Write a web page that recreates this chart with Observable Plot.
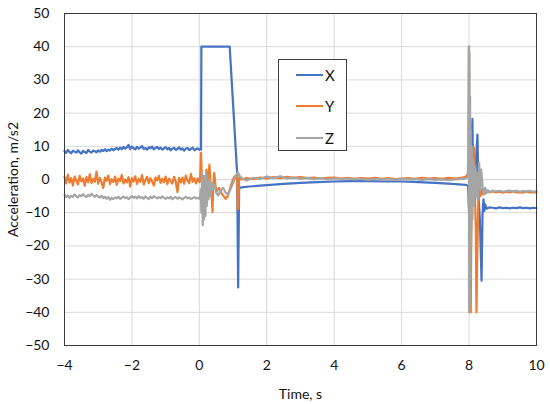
<!DOCTYPE html>
<html>
<head>
<meta charset="utf-8">
<script src="https://cdn.jsdelivr.net/npm/d3@7"></script>
<script src="https://cdn.jsdelivr.net/npm/@observablehq/plot@0.6"></script>
<style>
  html, body { margin: 0; padding: 0; background: #fff; }
  #wrap { position: relative; width: 550px; height: 404px; font-family: Lato, "Open Sans", sans-serif; }
  #legend { position: absolute; left: 278px; top: 59px; width: 69px; height: 92px; border: 1px solid #404040; background: #fff; box-sizing: border-box; }
  .row { position: absolute; left: 17px; height: 20px; display: flex; align-items: center; font-size: 15px; color: #111; }
  .sw { width: 27px; height: 0; border-top: 2px solid; margin-right: 2px; }
</style>
</head>
<body>
<div id="wrap"><div id="chart"></div><div id="legend"></div></div>
<script>
const seriesNames = ["X", "Y", "Z"];
const seriesColors = ["#4472C4", "#ED7D31", "#A5A5A5"];
const xTicks = [-4, -2, 0, 2, 4, 6, 8, 10];
const yTicks = [-50, -40, -30, -20, -10, 0, 10, 20, 30, 40, 50];

// baseline sample times (before the event)
const tPre = [-4.00,-3.95,-3.90,-3.85,-3.80,-3.75,-3.70,-3.65,-3.60,-3.55,-3.50,-3.45,-3.40,-3.35,-3.30,-3.25,-3.20,-3.15,-3.10,-3.05,-3.00,
  -2.95,-2.90,-2.85,-2.80,-2.75,-2.70,-2.65,-2.60,-2.55,-2.50,-2.45,-2.40,-2.35,-2.30,-2.25,-2.20,-2.15,-2.10,-2.05,-2.00,
  -1.95,-1.90,-1.85,-1.80,-1.75,-1.70,-1.65,-1.60,-1.55,-1.50,-1.45,-1.40,-1.35,-1.30,-1.25,-1.20,-1.15,-1.10,-1.05,-1.00,
  -0.95,-0.90,-0.85,-0.80,-0.75,-0.70,-0.65,-0.60,-0.55,-0.50,-0.45,-0.40,-0.35,-0.30,-0.25,-0.20,-0.15,-0.10,-0.05,0.00];

const xPre = [8.6,8.0,8.9,8.3,7.9,8.7,8.4,8.1,8.8,8.2,7.8,8.6,8.3,8.0,8.9,8.4,8.1,8.7,8.5,8.2,8.8,
  8.4,8.9,8.6,9.1,8.5,9.0,8.7,9.3,8.8,9.2,9.5,9.0,9.6,9.1,9.8,9.3,9.7,10.4,9.2,9.9,
  9.4,9.1,9.8,9.3,9.6,10.1,9.2,9.5,9.0,9.7,9.4,9.9,9.1,9.5,9.8,9.2,9.6,9.0,9.4,9.7,
  9.1,9.5,8.8,9.3,9.6,8.9,9.2,9.7,9.0,9.4,8.7,9.3,9.5,8.9,9.2,9.6,8.8,9.1,9.4,9.0];

const yPre = [0.8,-1.2,1.5,-0.9,0.4,-1.8,0.9,-0.3,-1.5,1.1,-0.6,0.3,-1.9,0.7,-0.8,1.6,-1.1,0.2,-0.7,2.4,-1.3,
  0.5,-0.9,-2.6,0.6,-0.4,1.2,-1.4,0.1,-0.8,0.9,-1.6,0.3,-0.5,1.4,-1.2,0.0,-0.9,0.7,-2.1,0.4,
  -0.6,1.0,-1.3,0.2,-0.7,1.3,-1.5,-0.2,0.8,-1.1,0.4,-0.6,-1.8,0.6,-0.3,1.1,-1.0,0.2,-0.8,0.9,
  -1.4,0.3,-0.5,-1.2,0.8,-0.6,-3.8,0.5,-0.9,0.6,-1.3,1.2,-0.4,-1.1,1.7,-0.7,0.4,-1.2,0.3,-0.8];

const zPre = [-4.6,-5.3,-4.8,-5.5,-4.9,-5.2,-4.5,-5.0,-5.4,-4.7,-5.1,-4.4,-4.9,-5.3,-4.6,-5.0,-4.3,-4.8,-5.2,-4.7,-5.1,
  -5.4,-4.9,-5.6,-5.2,-5.8,-5.3,-6.1,-5.5,-5.9,-5.4,-5.7,-5.2,-5.8,-5.5,-5.1,-5.6,-5.3,-5.9,-5.4,-5.0,
  -5.5,-5.2,-5.7,-5.0,-5.6,-5.3,-5.8,-5.1,-5.5,-5.9,-5.2,-5.6,-5.0,-5.4,-5.7,-5.3,-5.6,-5.1,-5.5,-5.8,
  -5.4,-5.7,-5.2,-5.9,-5.5,-5.3,-5.8,-5.4,-5.6,-6.0,-5.5,-5.2,-5.7,-5.4,-5.9,-5.6,-5.3,-5.7,-5.5,-5.8];

// [time, value] after the baseline
const xRest = [[0.02,9.2],[0.05,9.0],[0.06,40],[0.9,40],[1.12,2],[1.15,-32.5],[1.18,-2.5],[1.3,-2.3],[1.5,-2.1],
  [2.0,-1.7],[2.5,-1.3],[3.0,-1.0],[3.5,-0.8],[4.0,-0.6],[4.5,-0.5],[5.0,-0.5],[5.5,-0.6],[6.0,-0.6],[6.5,-0.8],
  [7.0,-1.0],[7.5,-1.3],[7.9,-1.6],[7.97,-1.9],[8.0,-10],[8.03,5],[8.06,-15],[8.08,10],[8.10,18.3],[8.12,-5],
  [8.14,2],[8.17,-8],[8.20,5],[8.25,13.5],[8.28,-5],[8.32,-12],[8.37,-30.5],[8.40,-10],[8.43,-6],[8.45,-9.5],
  [8.48,-7.5],[8.52,-8.8],[8.6,-8.4],[8.7,-8.5],[8.8,-8.7],[8.9,-8.4],[9.0,-8.6],[9.1,-8.5],[9.2,-8.7],[9.3,-8.5],
  [9.4,-8.6],[9.5,-8.4],[9.6,-8.6],[9.7,-8.5],[9.8,-8.7],[9.9,-8.5],[10.0,-8.6]];

const yRest = [[0.02,-0.6],[0.05,8],[0.07,2],[0.09,-3],[0.11,1],[0.13,-6],[0.15,0],[0.18,-4],[0.21,3],[0.24,-2],
  [0.27,1],[0.30,4.5],[0.33,-1],[0.36,-4],[0.39,-9.8],[0.41,-2],[0.44,2],[0.48,-2],[0.52,-3.5],[0.58,-2.5],
  [0.65,-4],[0.72,-5],[0.78,-5.8],[0.84,-5],[0.90,-3],[0.96,-1],[1.02,0.5],[1.08,1.2],[1.12,0.8],[1.14,-9],
  [1.16,-8.5],[1.18,0.5],[1.25,0],[1.4,0.4],[1.6,0.1],[1.8,0.6],[2.0,0.3],[2.2,0.7],[2.4,0.4],[2.6,0.8],[2.8,0.5],
  [3.0,0.7],[3.2,0.4],[3.4,0.6],[3.6,0.3],[3.8,0.5],[4.0,0.6],[4.2,0.3],[4.4,0.5],[4.6,0.2],[4.8,0.4],[5.0,0.3],
  [5.2,0.5],[5.4,0.2],[5.6,0.4],[5.8,0.1],[6.0,0.3],[6.2,0.4],[6.4,0.2],[6.6,0.5],[6.8,0.3],[7.0,0.4],[7.2,0.2],
  [7.4,0.5],[7.6,0.3],[7.8,0.6],[7.9,0.8],[7.95,1.5],[7.98,1.8],[8.0,40],[8.02,-20],[8.04,5],[8.05,-40],[8.07,-10],
  [8.10,3],[8.13,-5],[8.15,9.5],[8.17,-3],[8.20,-15],[8.22,-40],[8.24,-25],[8.27,-8],[8.30,-2],[8.34,-5],[8.38,-3],
  [8.42,-4.5],[8.46,-3],[8.5,-4.2],[8.55,-3.5],[8.6,-3.9],[8.7,-3.6],[8.8,-3.9],[8.9,-3.7],[9.0,-4.0],[9.1,-3.7],
  [9.2,-3.9],[9.3,-3.6],[9.4,-3.9],[9.5,-3.8],[9.6,-4.0],[9.7,-3.7],[9.8,-3.9],[9.9,-3.8],[10.0,-3.9]];

const zRest = [[0.02,-5.5],[0.04,-3],[0.06,-10],[0.08,2],[0.10,-13.8],[0.12,-4],[0.14,-12],[0.16,1],[0.18,-11],
  [0.20,2],[0.22,-8],[0.24,-1],[0.27,-6],[0.30,0],[0.33,-5],[0.36,-1],[0.40,-3],[0.45,-1.5],[0.50,-4],[0.56,-4.8],
  [0.62,-3.5],[0.70,-2.5],[0.78,-4],[0.85,-4.5],[0.92,-3],[1.00,-1],[1.08,1],[1.14,2.2],[1.20,1.0],[1.28,0.2],
  [1.4,-0.3],[1.6,0.5],[1.8,0.2],[2.0,0.9],[2.2,0.4],[2.4,1.0],[2.6,0.3],[2.8,0.6],[3.0,0.2],[3.2,0.5],[3.4,0.1],
  [3.6,0.4],[3.8,0.0],[4.0,0.3],[4.2,0.1],[4.4,0.3],[4.6,0.0],[4.8,0.2],[5.0,-0.1],[5.2,0.2],[5.4,0.0],[5.6,0.1],
  [5.8,-0.1],[6.0,0.2],[6.2,0.0],[6.4,0.1],[6.6,-0.1],[6.8,0.1],[7.0,-0.1],[7.2,0.0],[7.4,-0.2],[7.6,0.0],[7.8,0.2],
  [7.9,0.3],[7.96,0.8],[7.98,10],[7.99,40],[8.00,-40],[8.01,38],[8.02,-38],[8.03,25],[8.04,-30],[8.05,15],[8.06,-20],
  [8.08,10],[8.10,-12],[8.12,6],[8.14,-8],[8.17,4],[8.20,-5],[8.23,2],[8.26,-6],[8.30,5],[8.33,-3],[8.36,3],[8.40,-2],
  [8.44,-4.5],[8.48,-2.5],[8.52,-4],[8.56,-3.2],[8.6,-3.8],[8.7,-3.3],[8.8,-3.6],[8.9,-3.4],[9.0,-3.7],[9.1,-3.5],
  [9.2,-3.3],[9.3,-3.6],[9.4,-3.4],[9.5,-3.7],[9.6,-3.5],[9.7,-3.6],[9.8,-3.4],[9.9,-3.7],[10.0,-3.5]];

const pre = [xPre, yPre, zPre];
const rest = [xRest, yRest, zRest];
const data = [];
seriesNames.forEach((s, k) => {
  tPre.forEach((t, i) => data.push({t, v: pre[k][i], s}));
  rest[k].forEach(([t, v]) => data.push({t, v, s}));
});

const chart = Plot.plot({
  width: 550,
  height: 404,
  marginLeft: 64,
  marginRight: 14,
  marginTop: 13,
  marginBottom: 59,
  style: {fontFamily: "Lato, 'Open Sans', sans-serif", fontSize: "14px", color: "#111", background: "#fff"},
  x: {domain: [-4, 10]},
  y: {domain: [-50, 50]},
  color: {domain: seriesNames, range: seriesColors},
  marks: [
    Plot.gridX(xTicks, {stroke: "#d9d9d9", strokeOpacity: 1}),
    Plot.gridY(yTicks, {stroke: "#d9d9d9", strokeOpacity: 1}),
    Plot.line(data, {x: "t", y: "v", z: "s", stroke: "s", strokeWidth: 2.2, curve: "linear"}),
    Plot.frame({stroke: "#3a3a3a", strokeWidth: 1}),
    Plot.axisX(xTicks, {tickSize: 0, tickPadding: 15, fontSize: 14, label: "Time, s", labelAnchor: "center", labelArrow: "none", labelOffset: 53}),
    Plot.axisY(yTicks, {tickSize: 0, tickPadding: 15, fontSize: 14, label: "Acceleration, m/s2", labelAnchor: "center", labelArrow: "none", labelOffset: 56})
  ]
});
document.getElementById("chart").appendChild(chart);

const legend = document.getElementById("legend");
const rowTops = [5, 36, 68];
seriesNames.forEach((s, k) => {
  const row = document.createElement("div");
  row.className = "row";
  row.style.top = rowTops[k] + "px";
  const sw = document.createElement("span");
  sw.className = "sw";
  sw.style.borderColor = seriesColors[k];
  row.appendChild(sw);
  row.appendChild(document.createTextNode(s));
  legend.appendChild(row);
});
</script>
</body>
</html>
